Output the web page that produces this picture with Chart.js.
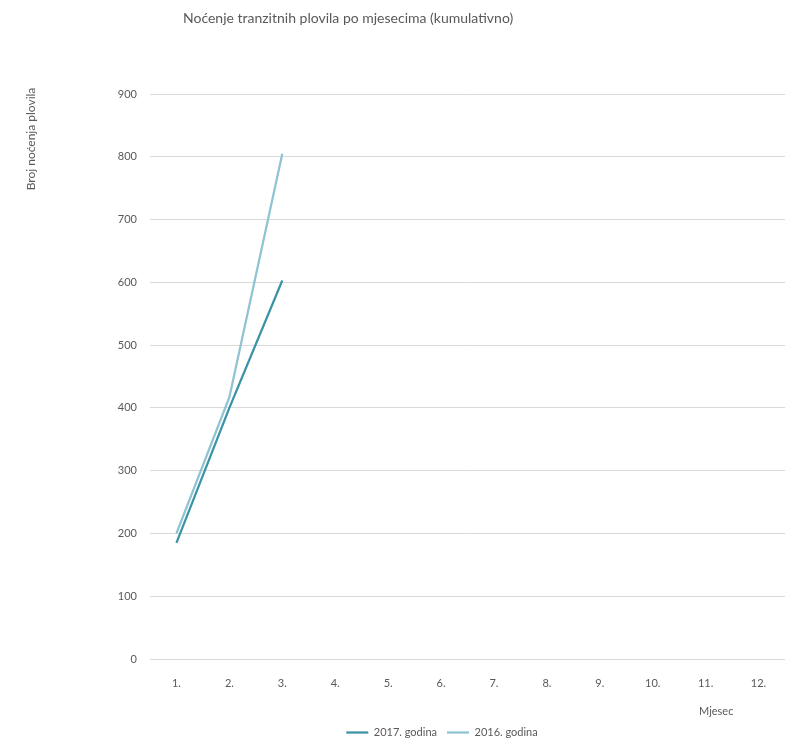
<!DOCTYPE html>
<html>
<head>
<meta charset="utf-8">
<script src="https://cdn.jsdelivr.net/npm/chart.js@4"></script>
<style>
  body { margin: 0; background: #fff; }
  #wrap { width: 785px; height: 739px; }
</style>
</head>
<body>
<div id="wrap"><canvas id="myChart"></canvas></div>
<script>
const months = ["1.", "2.", "3.", "4.", "5.", "6.", "7.", "8.", "9.", "10.", "11.", "12."];
const values2017 = [185, 400, 603];
const values2016 = [200, 417, 805];
const seriesNames = ["2017. godina", "2016. godina"];
const chartTitle = "Noćenje tranzitnih plovila po mjesecima (kumulativno)";
const yTitle = "Broj noćenja plovila";
const xTitle = "Mjesec";

const fontFamily = "Lato, 'Noto Sans', sans-serif";
const textColor = "#595959";

// draws the title and axis titles where the original has them
const textPlugin = {
    id: "texts",
    afterDraw: (chart) => {
        const ctx = chart.ctx;
        ctx.save();
        ctx.fillStyle = textColor;
        ctx.textBaseline = "middle";
        ctx.font = "14px " + fontFamily;
        ctx.textAlign = "left";
        ctx.fillText(chartTitle, 183, 18);

        ctx.font = "11px " + fontFamily;
        ctx.fillText(xTitle, 699, 711);

        ctx.font = "12px " + fontFamily;
        ctx.translate(31, 139);
        ctx.rotate(-Math.PI / 2);
        ctx.textAlign = "center";
        ctx.fillText(yTitle, 0, 0);
        ctx.restore();
    },
};

const data = {
    labels: months,
    datasets: [{
            label: seriesNames[0],
            data: values2017,
            borderColor: "#3a93a6",
            backgroundColor: "#3a93a6",
            borderWidth: 2.25,
            pointRadius: 0,
        },
        {
            label: seriesNames[1],
            data: values2016,
            borderColor: "#8fc3d2",
            backgroundColor: "#8fc3d2",
            borderWidth: 2.25,
            pointRadius: 0,
        },
    ],
};

const config = {
    type: "line",
    data: data,
    options: {
        responsive: true,
        maintainAspectRatio: false,
        animation: false,
        layout: {
            padding: { top: 94, right: -2, left: 97, bottom: -9 },
        },
        scales: {
            x: {
                offset: true,
                grid: { display: false },
                border: { display: false },
                ticks: {
                    color: textColor,
                    font: { family: fontFamily, size: 11 },
                    padding: 10,
                    maxRotation: 0,
                },
                afterFit: (scale) => {
                    scale.height = 58;
                },
            },
            y: {
                min: 0,
                max: 900,
                ticks: {
                    stepSize: 100,
                    color: textColor,
                    font: { family: fontFamily, size: 11 },
                    padding: 13,
                },
                grid: {
                    color: "#d9d9d9",
                    drawTicks: false,
                },
                border: { display: false },
                afterFit: (scale) => {
                    scale.width = 53;
                },
            },
        },
        plugins: {
            title: { display: false },
            tooltip: { enabled: false },
            legend: {
                position: "bottom",
                labels: {
                    usePointStyle: true,
                    pointStyle: "line",
                    pointStyleWidth: 22,
                    boxHeight: 8,
                    color: textColor,
                    font: { family: fontFamily, size: 11 },
                    padding: 10,
                },
            },
        },
    },
    plugins: [textPlugin],
};

const myChart = new Chart(document.getElementById("myChart"), config);
</script>
</body>
</html>
